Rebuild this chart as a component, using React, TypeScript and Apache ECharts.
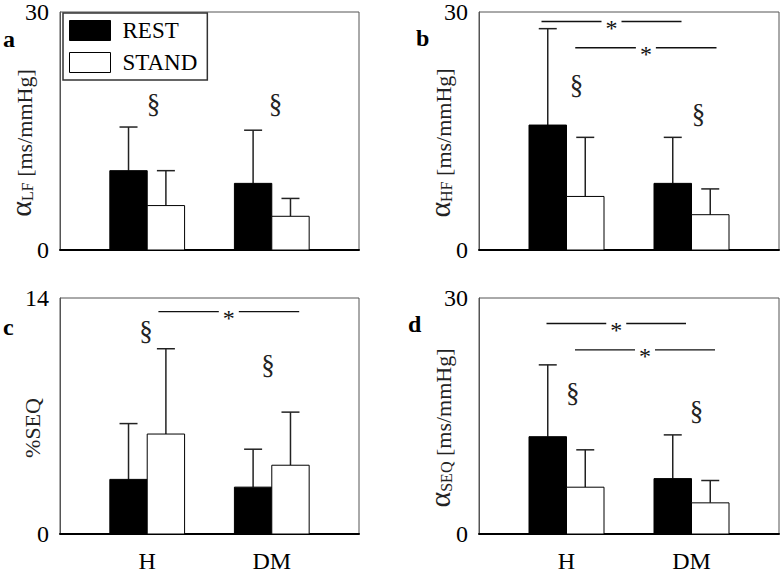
import React, { useEffect, useRef } from "react";
import * as echarts from "echarts";

const FONT = "Liberation Serif";

const categories = ["H", "DM"];
const catPos = [1, 2];

// panel a: alpha LF
const restA = [10.0, 8.4];
const restASd = [5.5, 6.7];
const standA = [5.6, 4.25];
const standASd = [4.4, 2.25];
// panel b: alpha HF
const restB = [15.75, 8.4];
const restBSd = [12.15, 5.8];
const standB = [6.75, 4.45];
const standBSd = [7.45, 3.25];
// panel c: %SEQ
const restC = [3.24, 2.78];
const restCSd = [3.31, 2.25];
const standC = [5.93, 4.08];
const standCSd = [5.06, 3.15];
// panel d: alpha SEQ
const restD = [12.37, 7.04];
const restDSd = [9.13, 5.56];
const standD = [5.95, 3.96];
const standDSd = [4.75, 2.84];

const yMaxs = [30, 30, 14, 30];

// § marks [x, y]
const sectA = [[1.05, 18.4], [2.03, 18.4]];
const sectB = [[1.08, 20.8], [2.055, 17.1]];
const sectC = [[0.99, 12.05], [1.97, 10.0]];
const sectD = [[1.05, 17.9], [2.04, 15.6]];

// significance lines [x1, x2, y]
const sigA: number[][] = [];
const sigB = [[0.8, 1.92, 28.8], [1.07, 2.2, 25.5]];
const sigC = [[1.09, 2.22, 13.19]];
const sigD = [[0.84, 1.956, 26.75], [1.068, 2.188, 23.4]];

const panelLetters = ["a", "b", "c", "d"];

const grids = [
  { left: 60, top: 10, width: 299, height: 240 },
  { left: 479, top: 10, width: 300, height: 240 },
  { left: 60, top: 298, width: 299, height: 240 },
  { left: 479, top: 298, width: 300, height: 240 },
];

const yNames = [
  "{a|α}{s|LF}{t| [ms/mmHg]}{sp| }",
  "{a|α}{s|HF}{t| [ms/mmHg]}{sp| }",
  "{t|%SEQ}{sp| }",
  "{a|α}{s|SEQ}{t| [ms/mmHg]}{sp| }",
];
const nameGaps = [25, 25, 17, 25];

function barSeries(idx: number, name: string, means: number[], sds: number[], lo: number, fill: string) {
  return {
    type: "custom",
    name,
    xAxisIndex: idx,
    yAxisIndex: idx,
    encode: { x: 0, y: 1 },
    data: means.map((m, i) => [catPos[i], m, sds[i]]),
    renderItem: (params: any, api: any) => {
      const x = api.value(0);
      const m = api.value(1);
      const sd = api.value(2);
      const p0 = api.coord([x + lo, 0]);
      const p1 = api.coord([x + lo + 0.3, m]);
      const pe = api.coord([x + lo + 0.15, m + sd]);
      return {
        type: "group",
        children: [
          {
            type: "line",
            shape: { x1: pe[0], y1: p1[1], x2: pe[0], y2: pe[1] },
            style: { stroke: "#222", lineWidth: 1.5 },
          },
          {
            type: "line",
            shape: { x1: pe[0] - 9, y1: pe[1], x2: pe[0] + 9, y2: pe[1] },
            style: { stroke: "#222", lineWidth: 1.5 },
          },
          {
            type: "rect",
            shape: { x: p0[0], y: p1[1], width: p1[0] - p0[0], height: p0[1] - p1[1] },
            style: { fill, stroke: "#000", lineWidth: 1 },
          },
        ],
      };
    },
  };
}

function sectSeries(idx: number, data: number[][]) {
  return {
    type: "custom",
    xAxisIndex: idx,
    yAxisIndex: idx,
    encode: { x: 0, y: 1 },
    data,
    silent: true,
    renderItem: (params: any, api: any) => {
      const p = api.coord([api.value(0), api.value(1)]);
      return {
        type: "text",
        x: p[0],
        y: p[1],
        style: {
          text: "§",
          fontSize: 27,
          fontFamily: FONT,
          fill: "#222",
          align: "center",
          verticalAlign: "middle",
        },
      };
    },
  };
}

function sigSeries(idx: number, data: number[][]) {
  return {
    type: "custom",
    xAxisIndex: idx,
    yAxisIndex: idx,
    encode: { x: [0, 1], y: 2 },
    data,
    silent: true,
    renderItem: (params: any, api: any) => {
      const a = api.coord([api.value(0), api.value(2)]);
      const b = api.coord([api.value(1), api.value(2)]);
      const mid = (a[0] + b[0]) / 2;
      return {
        type: "group",
        children: [
          {
            type: "line",
            shape: { x1: a[0], y1: a[1], x2: mid - 10, y2: a[1] },
            style: { stroke: "#111", lineWidth: 1.4 },
          },
          {
            type: "line",
            shape: { x1: mid + 10, y1: a[1], x2: b[0], y2: a[1] },
            style: { stroke: "#111", lineWidth: 1.4 },
          },
          {
            type: "text",
            x: mid,
            y: a[1] + 6,
            style: {
              text: "*",
              fontSize: 24,
              fontFamily: FONT,
              fill: "#111",
              align: "center",
              verticalAlign: "middle",
            },
          },
        ],
      };
    },
  };
}

export default function App() {
  const ref = useRef<HTMLDivElement>(null);
  useEffect(() => {
    if (!ref.current) return;
    const chart = echarts.init(ref.current, undefined, { renderer: "svg" });
    const means = [
      [restA, restASd, standA, standASd],
      [restB, restBSd, standB, standBSd],
      [restC, restCSd, standC, standCSd],
      [restD, restDSd, standD, standDSd],
    ];
    const sects = [sectA, sectB, sectC, sectD];
    const sigs = [sigA, sigB, sigC, sigD];
    const series: any[] = [];
    for (let i = 0; i < 4; i++) {
      const [r, rs, s, ss] = means[i];
      series.push(barSeries(i, "REST", r, rs, -0.3, "#000"));
      series.push(barSeries(i, "STAND", s, ss, 0, "#fff"));
      series.push(sectSeries(i, sects[i]));
      if (sigs[i].length) series.push(sigSeries(i, sigs[i]));
    }
    const letterPos = [
      [3, 39],
      [416, 38],
      [3, 327],
      [408, 324],
    ];
    const option: any = {
      animation: false,
      backgroundColor: "#fff",
      textStyle: { fontFamily: FONT },
      grid: grids.map((g) => ({ ...g, show: true, borderColor: "#555", borderWidth: 1, backgroundColor: "transparent" })),
      xAxis: grids.map((g, i) => ({
        type: "value",
        gridIndex: i,
        min: 0.3,
        max: 2.7,
        splitLine: { show: false },
        axisTick: { show: false },
        axisLine: { show: true, onZero: false, lineStyle: { color: "#000", width: 2 } },
        axisLabel: {
          show: i >= 2,
          customValues: catPos,
          formatter: (v: number) => categories[Math.round(v) - 1] ?? "",
          fontSize: 24,
          fontFamily: FONT,
          color: "#000",
          margin: 15,
        },
      })),
      yAxis: grids.map((g, i) => ({
        type: "value",
        gridIndex: i,
        min: 0,
        max: yMaxs[i],
        interval: yMaxs[i],
        splitLine: { show: false },
        axisTick: { show: false },
        axisLine: { show: true, lineStyle: { color: "#555", width: 1 } },
        axisLabel: { fontSize: 24, fontFamily: FONT, color: "#000", margin: 11 },
        name: yNames[i],
        nameLocation: "middle",
        nameGap: nameGaps[i],
        nameRotate: 90,
        nameMoveOverlap: false,
        nameTextStyle: {
          rich: {
            a: { fontSize: 30, fontFamily: FONT, color: "#222", verticalAlign: "bottom", lineHeight: 28 },
            s: { fontSize: 16, fontFamily: FONT, color: "#222", verticalAlign: "bottom", lineHeight: 28 },
            t: { fontSize: 22, fontFamily: FONT, color: "#222", verticalAlign: "bottom", lineHeight: 28 },
            sp: { width: 24, fontSize: 22, lineHeight: 28 },
          },
        },
      })),
      legend: {
        orient: "vertical",
        left: 63,
        top: 13,
        icon: "rect",
        itemWidth: 41,
        itemHeight: 20,
        itemGap: 9,
        borderColor: "#333",
        borderWidth: 1.5,
        padding: [6, 10, 6, 6],
        selectedMode: false,
        data: [
          { name: "REST", itemStyle: { color: "#000", borderColor: "#000", borderWidth: 1 } },
          { name: "STAND", itemStyle: { color: "#fff", borderColor: "#000", borderWidth: 1 } },
        ],
        textStyle: { fontSize: 23, fontFamily: FONT, color: "#000", padding: [0, 0, 0, 7], lineHeight: 20 },
      },
      graphic: panelLetters.map((l, i) => ({
        type: "text",
        x: letterPos[i][0],
        y: letterPos[i][1],
        style: {
          text: l,
          fontSize: 24,
          fontWeight: "bold",
          fontFamily: FONT,
          fill: "#000",
          verticalAlign: "middle",
        },
      })),
      series,
    };
    chart.setOption(option);
    return () => chart.dispose();
  }, []);
  return <div ref={ref} style={{ position: "absolute", left: 0, top: 0, width: 782, height: 573 }} />;
}
